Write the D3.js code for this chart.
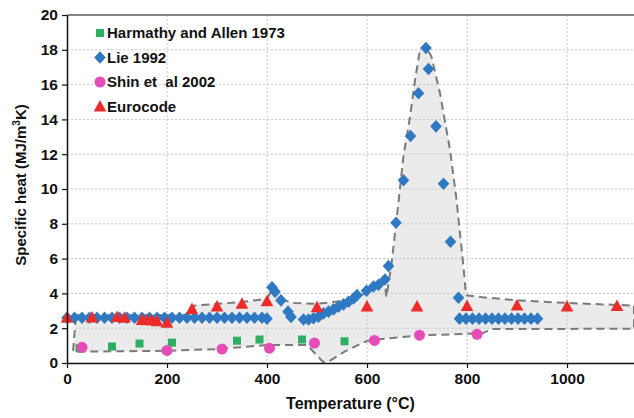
<!DOCTYPE html>
<html>
<head>
<meta charset="utf-8">
<script src="https://cdn.jsdelivr.net/npm/d3@7"></script>
<style>
  body { margin: 0; background: #fff; }
  text { font-family: "Liberation Sans", Arial, sans-serif; font-weight: bold; }
</style>
</head>
<body>
<svg id="chart" width="634" height="418"></svg>
<script>
// data (temperature in °C, specific heat in MJ/m3K)
const harmathyT = [25, 90, 145, 210, 340, 385, 470, 555];
const harmathyC = [0.85, 0.95, 1.12, 1.17, 1.28, 1.35, 1.35, 1.25];

const lieT = [0, 15, 30, 45, 60, 75, 90, 105, 120, 135, 150, 165, 180, 195, 210, 225, 240, 255, 270, 285, 300, 315, 330, 345, 360, 375, 390, 400,
  410, 416, 428, 442, 448, 473, 483, 493, 503, 513, 523, 533, 543, 553, 563, 573, 580, 599, 613, 623, 636, 643, 658, 673, 687, 703, 718, 723,
  738, 753, 767, 783, 785, 798, 811, 824, 837, 850, 863, 876, 889, 902, 915, 928, 941];
const lieC = [2.6, 2.6, 2.6, 2.6, 2.6, 2.6, 2.6, 2.6, 2.6, 2.6, 2.6, 2.6, 2.6, 2.6, 2.6, 2.6, 2.6, 2.6, 2.6, 2.6, 2.6, 2.6, 2.6, 2.6, 2.6, 2.6, 2.6, 2.55,
  4.35, 4.1, 3.6, 2.95, 2.65, 2.5, 2.5, 2.57, 2.66, 2.85, 2.95, 3.08, 3.24, 3.37, 3.52, 3.71, 3.9, 4.15, 4.4, 4.5, 4.8, 5.57, 8.06, 10.5, 13.05, 15.5, 18.1, 16.9,
  13.6, 10.3, 6.97, 3.75, 2.55, 2.55, 2.55, 2.55, 2.55, 2.55, 2.55, 2.55, 2.55, 2.55, 2.55, 2.55, 2.55];

const shinT = [30, 200, 310, 405, 495, 615, 705, 820];
const shinC = [0.9, 0.72, 0.8, 0.85, 1.15, 1.3, 1.6, 1.65];

const euroT = [0, 50, 100, 115, 150, 160, 170, 180, 200, 250, 300, 350, 400, 500, 600, 700, 800, 900, 1000, 1100];
const euroC = [2.6, 2.62, 2.65, 2.6, 2.47, 2.45, 2.45, 2.4, 2.32, 3.1, 3.25, 3.4, 3.55, 3.2, 3.25, 3.25, 3.28, 3.3, 3.25, 3.28];

// envelope (dashed, shaded)
const upperT = [18, 240, 255, 300, 350, 400, 412, 435, 455, 500, 575, 600, 620, 635, 639, 649, 659, 673, 686, 696, 706, 716, 729, 746, 766, 779, 793, 798, 830, 900, 1000, 1134];
const upperC = [2.75, 2.75, 3.3, 3.4, 3.5, 3.7, 4.3, 3.6, 3.45, 3.4, 3.65, 4.1, 4.4, 4.7, 3.8, 5.7, 8.2, 11.9, 14.15, 16.25, 18.0, 18.3, 17.6, 15.5, 12.25, 9.4, 5.5, 3.9, 3.78, 3.6, 3.45, 3.3];
const lowerT = [1134, 850, 832, 800, 700, 605, 590, 555, 525, 512, 498, 480, 400, 300, 200, 12];
const lowerC = [1.97, 1.95, 1.72, 1.68, 1.58, 1.3, 1.15, 0.65, 0.12, 0.06, 0.5, 1.03, 1.03, 0.8, 0.7, 0.65];

const xTicks = [0, 200, 400, 600, 800, 1000];
const yTicks = [0, 2, 4, 6, 8, 10, 12, 14, 16, 18, 20];

const legendNames = ["Harmathy and Allen 1973", "Lie 1992", "Shin et  al 2002", "Eurocode"];

const svg = d3.select("#chart");
const margin = { top: 15, right: 0, bottom: 55, left: 67 };
const width = +svg.attr("width") - margin.left - margin.right;
const height = +svg.attr("height") - margin.top - margin.bottom;

const chart = svg.append("g")
  .attr("transform", `translate(${margin.left}, ${margin.top})`);

const x = d3.scaleLinear().domain([0, 1134]).range([0, width]);
const y = d3.scaleLinear().domain([0, 20]).range([height, 0]);

const colors = { harmathy: "#2eae62", lie: "#2f78c2", shin: "#e64cb8", euro: "#ee2b2b" };

// envelope polygon
const envelope = upperT.map((t, i) => [t, upperC[i]])
  .concat(lowerT.map((t, i) => [t, lowerC[i]]));
const envLine = d3.line().x(d => x(d[0])).y(d => y(d[1])).curve(d3.curveLinearClosed);

chart.append("path")
  .attr("d", envLine(envelope))
  .attr("fill", "#ebebeb");

// grid
chart.append("g")
  .selectAll("line")
  .data(yTicks.filter(v => v > 0 && v < 20))
  .join("line")
  .attr("x1", 0).attr("x2", width)
  .attr("y1", d => y(d)).attr("y2", d => y(d))
  .attr("stroke", "#c4c4c4").attr("stroke-dasharray", "2,2");

chart.append("g")
  .selectAll("line")
  .data(xTicks.filter(v => v > 0))
  .join("line")
  .attr("x1", d => x(d)).attr("x2", d => x(d))
  .attr("y1", 0).attr("y2", height)
  .attr("stroke", "#c4c4c4").attr("stroke-dasharray", "2,2");

// envelope outline
chart.append("path")
  .attr("d", envLine(envelope))
  .attr("fill", "none")
  .attr("stroke", "#7a7a7a")
  .attr("stroke-width", 2)
  .attr("stroke-dasharray", "8,5");

// top frame
chart.append("line")
  .attr("x1", 0).attr("x2", width)
  .attr("y1", 0).attr("y2", 0)
  .attr("stroke", "#5a5a5a").attr("stroke-width", 1.5);

// marker shapes
const square = (cx, cy) => `M${cx - 4},${cy - 4}h8v8h-8Z`;
const diamond = (cx, cy) => `M${cx},${cy - 6.3}L${cx + 5.8},${cy}L${cx},${cy + 6.3}L${cx - 5.8},${cy}Z`;
const triangle = (cx, cy) => `M${cx},${cy - 6.5}L${cx + 6.3},${cy + 5}L${cx - 6.3},${cy + 5}Z`;

chart.append("g")
  .selectAll("path")
  .data(harmathyT.map((t, i) => [t, harmathyC[i]]))
  .join("path")
  .attr("d", d => square(x(d[0]), y(d[1])))
  .attr("fill", colors.harmathy);

chart.append("g")
  .selectAll("path")
  .data(lieT.map((t, i) => [t, lieC[i]]))
  .join("path")
  .attr("d", d => diamond(x(d[0]), y(d[1])))
  .attr("fill", colors.lie);

chart.append("g")
  .selectAll("circle")
  .data(shinT.map((t, i) => [t, shinC[i]]))
  .join("circle")
  .attr("cx", d => x(d[0]))
  .attr("cy", d => y(d[1]))
  .attr("r", 5.5)
  .attr("fill", colors.shin);

chart.append("g")
  .selectAll("path")
  .data(euroT.map((t, i) => [t, euroC[i]]))
  .join("path")
  .attr("d", d => triangle(x(d[0]), y(d[1])))
  .attr("fill", colors.euro);

// axes
const xAxis = chart.append("g")
  .attr("transform", `translate(0, ${height})`)
  .call(d3.axisBottom(x).tickValues(xTicks).tickFormat(d3.format("d")).tickSize(5).tickPadding(5).tickSizeOuter(0));
const yAxis = chart.append("g")
  .call(d3.axisLeft(y).tickValues(yTicks).tickFormat(d3.format("d")).tickSize(5).tickPadding(4).tickSizeOuter(0));

[xAxis, yAxis].forEach(a => {
  a.select(".domain").attr("stroke", "#111").attr("stroke-width", 1.5);
  a.selectAll(".tick line").attr("stroke", "#111").attr("stroke-width", 1.2);
  a.selectAll(".tick text")
    .attr("font-family", "Liberation Sans, Arial, sans-serif")
    .attr("font-weight", "bold")
    .attr("font-size", 15.5)
    .attr("fill", "#111");
});

// axis titles
svg.append("text")
  .attr("x", margin.left + width / 2)
  .attr("y", 409)
  .attr("text-anchor", "middle")
  .attr("font-size", 16)
  .attr("fill", "#111")
  .text("Temperature (°C)");

const yTitle = svg.append("text")
  .attr("transform", "translate(26, 185) rotate(-90)")
  .attr("text-anchor", "middle")
  .attr("font-size", 15)
  .attr("fill", "#111");
yTitle.append("tspan").text("Specific heat (MJ/m");
yTitle.append("tspan").attr("font-size", 10).attr("dy", -6).text("3");
yTitle.append("tspan").attr("dy", 6).text("K)");

// legend
const legendY = [33, 57.5, 82, 106.5];
const legend = svg.append("g");
const lx = 100;
legend.append("path").attr("d", square(lx, legendY[0])).attr("fill", colors.harmathy);
legend.append("path").attr("d", diamond(lx, legendY[1])).attr("fill", colors.lie);
legend.append("circle").attr("cx", lx).attr("cy", legendY[2]).attr("r", 5.5).attr("fill", colors.shin);
legend.append("path").attr("d", triangle(lx, legendY[3])).attr("fill", colors.euro);

legend.selectAll("text")
  .data(legendNames)
  .join("text")
  .attr("x", 107)
  .attr("y", (d, i) => legendY[i])
  .attr("dy", "0.36em")
  .attr("font-size", 15)
  .attr("fill", "#111")
  .attr("xml:space", "preserve")
  .style("white-space", "pre")
  .text(d => d);
</script>
</body>
</html>
